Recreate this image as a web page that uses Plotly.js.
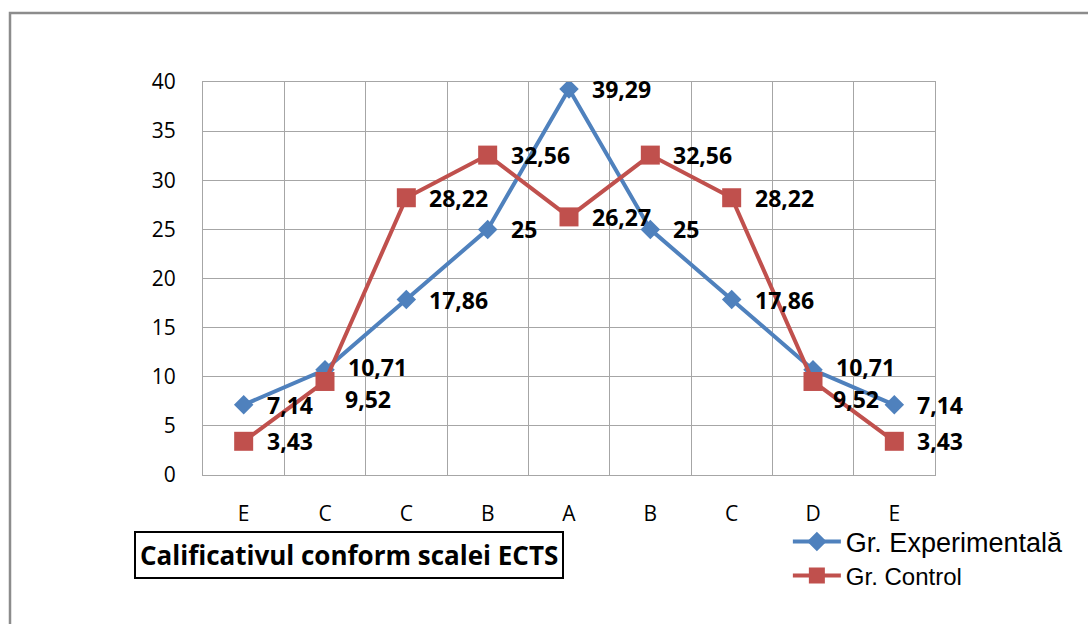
<!DOCTYPE html>
<html>
<head>
<meta charset="utf-8">
<script src="https://cdn.plot.ly/plotly-3.0.1.min.js"></script>
<style>
html,body{margin:0;padding:0;background:#fff;}
#chart{width:1088px;height:624px;}
</style>
</head>
<body>
<div id="chart"></div>
<script>
const categories = ["E", "C", "C", "B", "A", "B", "C", "D", "E"];
const experimental = [7.14, 10.71, 17.86, 25, 39.29, 25, 17.86, 10.71, 7.14];
const control = [3.43, 9.52, 28.22, 32.56, 26.27, 32.56, 28.22, 9.52, 3.43];
const seriesNames = ["Gr. Experimentală", "Gr. Control"];
const axisTitle = "Calificativul conform scalei ECTS";
const yTicks = [0, 5, 10, 15, 20, 25, 30, 35, 40];

const xs = categories.map((c, i) => i);
const fmt = v => String(v).replace('.', ',');

const blue = '#4F81BD';
const red = '#C0504D';
const gridColor = '#a6a6a6';

const traces = [
  {
    x: xs, y: experimental, name: seriesNames[0], type: 'scatter', mode: 'lines+markers',
    line: {color: blue, width: 4},
    marker: {symbol: 'diamond', size: 15, color: blue},
    legend: 'legend'
  },
  {
    x: xs, y: control, name: seriesNames[1], type: 'scatter', mode: 'lines+markers',
    line: {color: red, width: 4},
    marker: {symbol: 'square', size: 19, color: red},
    legend: 'legend2'
  }
];

const labelFont = {family: 'Open Sans, sans-serif', size: 23, color: '#000'};
const annotations = [];
// labels that sit close together get nudged apart (style only)
const expNudge = v => (v === 10.71 ? 3 : 0);
const ctlNudge = v => (v === 9.52 ? -18 : 0);
experimental.forEach((v, i) => {
  annotations.push({x: xs[i], y: v, xref: 'x', yref: 'y', text: '<b>' + fmt(v) + '</b>',
    showarrow: false, xanchor: 'left', yanchor: 'middle', xshift: 21, yshift: expNudge(v), font: labelFont});
});
control.forEach((v, i) => {
  const low = (v === 9.52);
  annotations.push({x: xs[i], y: v, xref: 'x', yref: 'y', text: '<b>' + fmt(v) + '</b>',
    showarrow: false, xanchor: 'left', yanchor: 'middle', xshift: low ? 18 : 21, yshift: ctlNudge(v), font: labelFont});
});
annotations.push({
  x: 0.2, y: -0.2048, xref: 'paper', yref: 'paper', text: '<b>' + axisTitle + '</b>',
  showarrow: false, xanchor: 'center', yanchor: 'middle',
  font: {family: 'Open Sans, sans-serif', size: 26, color: '#000'},
  bordercolor: '#000', borderwidth: 2, borderpad: 4, bgcolor: '#fff'
});

const legendBase = {xanchor: 'left', yanchor: 'middle', bgcolor: 'rgba(0,0,0,0)', itemwidth: 48};

const layout = {
  width: 1088, height: 624,
  margin: {l: 203, r: 153, t: 82, b: 149},
  paper_bgcolor: '#fff', plot_bgcolor: '#fff',
  showlegend: true,
  legend: Object.assign({}, legendBase, {x: 0.799, y: -0.1705,
    font: {family: 'Liberation Sans, Arial, sans-serif', size: 27, color: '#000'}}),
  legend2: Object.assign({}, legendBase, {x: 0.799, y: -0.257,
    font: {family: 'Liberation Sans, Arial, sans-serif', size: 24, color: '#000'}}),
  xaxis: {
    range: [-0.5, categories.length - 0.5],
    tickvals: xs, ticktext: categories,
    showgrid: false, zeroline: false,
    showline: true, mirror: true, linecolor: gridColor, linewidth: 1,
    ticks: '', ticklabelstandoff: 20,
    tickfont: {family: 'Open Sans, sans-serif', size: 21, color: '#000'},
    minor: {tick0: -0.5, dtick: 1, showgrid: true, gridcolor: gridColor, gridwidth: 1, ticks: ''},
    fixedrange: true
  },
  yaxis: {
    range: [0, 40], tickvals: yTicks,
    showgrid: true, gridcolor: gridColor, gridwidth: 1, zeroline: false,
    showline: true, mirror: true, linecolor: gridColor, linewidth: 1,
    ticks: '', ticklabelstandoff: 22,
    tickfont: {family: 'Open Sans, sans-serif', size: 21, color: '#000'},
    fixedrange: true
  },
  shapes: [{
    type: 'rect', xref: 'paper', yref: 'paper',
    x0: (10 - 203) / 732, x1: 1.4, y0: -0.6, y1: 1 + (82 - 13) / 393,
    line: {color: '#8c8c8c', width: 2.5}, fillcolor: 'rgba(0,0,0,0)', layer: 'below'
  }],
  annotations: annotations
};

Plotly.newPlot('chart', traces, layout, {displayModeBar: false, staticPlot: true});
</script>
</body>
</html>
